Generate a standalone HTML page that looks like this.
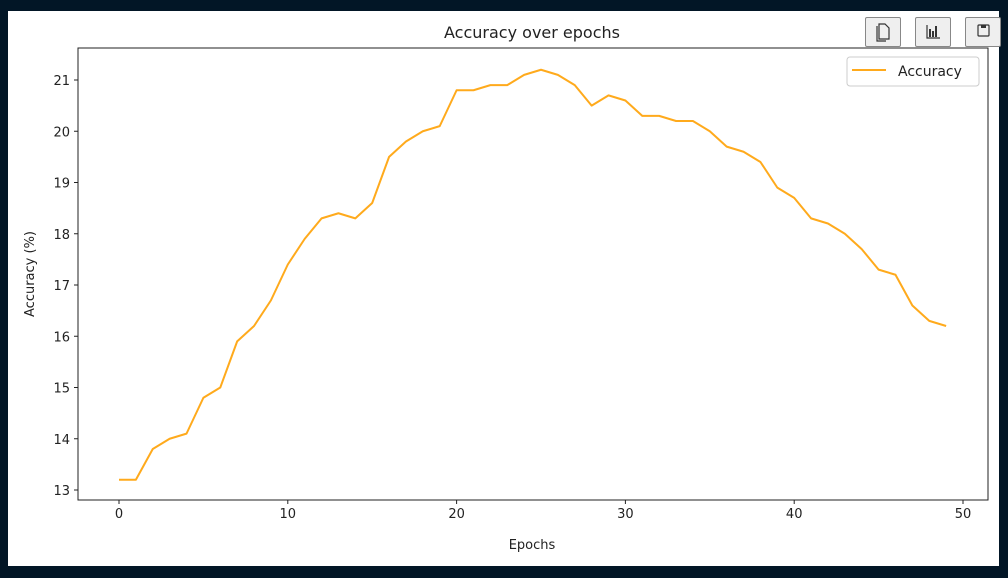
<!DOCTYPE html>
<html><head><meta charset="utf-8"><style>
body{margin:0;background:#021626;width:1008px;height:578px;overflow:hidden;font-family:"DejaVu Sans","Liberation Sans",sans-serif}
#card{position:absolute;left:8px;top:11px;width:991px;height:555px;background:#fff}
.btn{position:absolute;top:17px;width:36px;height:30px;background:#efefef;border:1px solid #888;border-radius:2px;box-sizing:border-box}
</style></head><body>
<div id="card"></div>
<svg id="chart" width="1008" height="578" style="position:absolute;left:0;top:0"></svg>
<div class="btn" style="left:865px"><svg width="34" height="28"><path d="M13 6h6l4 4v11h-10z M11 8v15h9" fill="none" stroke="#333" stroke-width="1.2"/></svg></div>
<div class="btn" style="left:915px"><svg width="34" height="28"><path d="M11 7v13h13" fill="none" stroke="#333" stroke-width="1.2"/><rect x="13" y="11" width="2" height="8" fill="#333"/><rect x="16" y="13" width="2" height="6" fill="#333"/><rect x="19" y="8" width="2" height="11" fill="#333"/></svg></div>
<div class="btn" style="left:965px"><svg width="34" height="28"><rect x="12" y="7" width="11" height="11" rx="1" fill="none" stroke="#333" stroke-width="1.2"/><rect x="15" y="7" width="5" height="3" fill="#333"/></svg></div>
<script>
const epochs=[];for(let i=0;i<50;i++)epochs.push(i);
const accuracy=[13.2,13.2,13.8,14.0,14.1,14.8,15.0,15.9,16.2,16.7,17.4,17.9,18.3,18.4,18.3,18.6,19.5,19.8,20.0,20.1,20.8,20.8,20.9,20.9,21.1,21.2,21.1,20.9,20.5,20.7,20.6,20.3,20.3,20.2,20.2,20.0,19.7,19.6,19.4,18.9,18.7,18.3,18.2,18.0,17.7,17.3,17.2,16.6,16.3,16.2];
const xTicks=[0,10,20,30,40,50];
const yTicks=[13,14,15,16,17,18,19,20,21];
const NS="http://www.w3.org/2000/svg";
const svg=document.getElementById('chart');
const L=78,R=988,T=48,B=500;
const xs=v=>119+v*(963-119)/50;
const ys=v=>490-(v-13)*(490-80)/8;
function el(t,a,txt){const e=document.createElementNS(NS,t);for(const k in a)e.setAttribute(k,a[k]);if(txt!==undefined)e.textContent=txt;svg.appendChild(e);return e;}
const frame=el('rect',{x:L,y:T,width:R-L,height:B-T,fill:'none',stroke:'#222','stroke-width':1});


xTicks.forEach(t=>{
 const l=el('line',{x1:xs(t),x2:xs(t),y1:B,y2:B+4,stroke:'#222'});
 
 
 const tx=el('text',{x:xs(t),y:B+18,'text-anchor':'middle','font-size':13,fill:'#222'},t);
 
 
});
yTicks.forEach(t=>{
 const l=el('line',{x1:L-4,x2:L,y1:ys(t),y2:ys(t),stroke:'#222'});
 
 
 const tx=el('text',{x:L-8,y:ys(t)+5,'text-anchor':'end','font-size':13,fill:'#222'},t);
 
 
});
const line=el('polyline',{points:epochs.map((e,i)=>xs(e)+','+ys(accuracy[i])).join(' '),fill:'none',stroke:'#ffaa1c','stroke-width':2,'stroke-linejoin':'round'});


const title=el('text',{x:532,y:38,'text-anchor':'middle','font-size':16,fill:'#222'},'Accuracy over epochs');


const xt=el('text',{x:532,y:549,'text-anchor':'middle','font-size':13,fill:'#222'},'Epochs');


const yt=el('text',{x:0,y:0,'text-anchor':'middle','font-size':13,fill:'#222',transform:'translate(34,274) rotate(-90)'},'Accuracy (%)');


const lg=el('rect',{x:847,y:57,width:132,height:29,rx:3,fill:'#fff',stroke:'#ccc'});


const ll=el('line',{x1:852,x2:886,y1:70,y2:70,stroke:'#ffaa1c','stroke-width':2});


const lt=el('text',{x:898,y:76,'font-size':14,fill:'#222'},'Accuracy');


</script>
</body></html>
